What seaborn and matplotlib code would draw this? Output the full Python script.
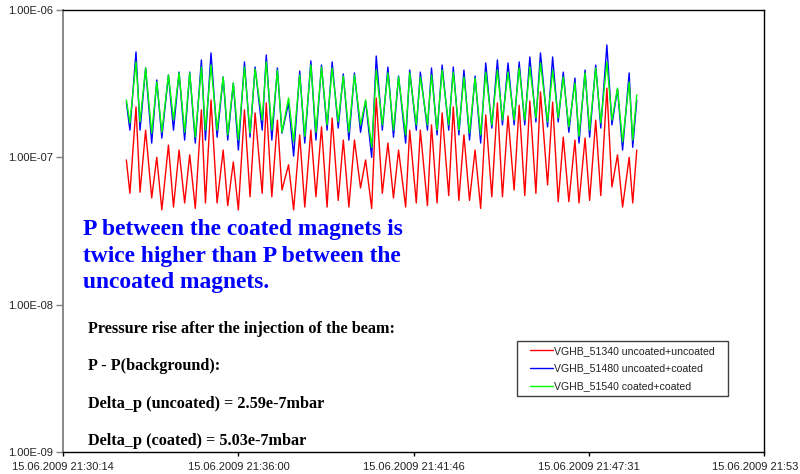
import matplotlib
matplotlib.use("Agg")
import matplotlib.pyplot as plt
import matplotlib.transforms as mtransforms
from matplotlib.patches import Rectangle
from matplotlib.ticker import FixedLocator, NullLocator
import numpy as np
import pandas as pd
import seaborn as sns

# ---------------- data ----------------
start_time = "21:30:14"
# seconds after 15.06.2009 21:30:14
time_s = [125, 132, 144, 152, 163, 175, 185, 195, 208, 218, 229, 240, 250, 261, 273, 281,
          292, 304, 316, 325, 336, 346, 358, 369, 379, 393, 401, 412, 423, 432, 445, 455,
          467, 477, 489, 499, 510, 521, 531, 543, 553, 564, 575, 587, 597, 609, 618, 630,
          641, 652, 662, 676, 684, 697, 705, 719, 727, 738, 748, 761, 770, 781, 791, 802,
          813, 824, 834, 846, 857, 867, 878, 890, 900, 911, 921, 933, 942, 956, 966, 977,
          987, 998, 1010, 1018, 1030, 1039, 1051, 1061, 1073, 1083, 1094, 1104, 1117, 1124, 1132]

# pressures in units of 1e-7 mbar
vghb_51340 = [0.96, 0.57, 2.20, 0.58, 1.53, 0.53, 1.00, 0.44, 1.21, 0.46, 1.12, 0.49, 1.04, 0.45, 2.10, 0.49,
              2.45, 0.49, 1.12, 0.47, 0.93, 0.44, 2.10, 0.54, 2.00, 0.57, 2.34, 0.54, 1.79, 0.60, 0.89, 0.44,
              1.42, 0.46, 1.53, 0.54, 1.61, 0.46, 1.85, 0.51, 1.31, 0.46, 1.31, 0.62, 0.96, 0.45, 2.53, 0.57,
              1.25, 0.53, 1.12, 0.46, 1.53, 0.49, 1.53, 0.47, 1.66, 0.49, 2.00, 0.55, 2.20, 0.51, 1.42, 0.51,
              1.12, 0.45, 1.94, 0.54, 2.34, 0.54, 1.91, 0.60, 2.26, 0.55, 2.41, 0.57, 2.78, 0.65, 2.37, 0.50,
              1.37, 0.50, 1.31, 0.49, 1.35, 0.51, 1.79, 0.55, 2.95, 0.63, 1.04, 0.46, 1.00, 0.49, 1.12]
vghb_51480 = [2.37, 1.53, 5.19, 1.53, 4.04, 1.25, 3.35, 1.35, 3.62, 1.53, 3.79, 1.31, 3.79, 1.25, 4.58, 1.31,
              5.11, 1.37, 3.51, 1.31, 3.19, 1.12, 4.44, 1.37, 4.10, 1.53, 4.95, 1.31, 4.04, 1.46, 2.34, 1.02,
              3.85, 1.25, 4.51, 1.31, 4.23, 1.53, 4.44, 1.58, 3.68, 1.31, 3.74, 1.48, 2.41, 1.00, 4.87, 1.53,
              4.10, 1.37, 3.56, 1.25, 3.91, 1.53, 3.79, 1.53, 4.04, 1.42, 4.23, 1.53, 4.10, 1.42, 3.91, 1.31,
              3.56, 1.25, 4.37, 1.58, 4.58, 1.66, 4.37, 1.66, 4.44, 1.66, 4.80, 1.74, 5.11, 1.61, 4.80, 1.74,
              3.79, 1.48, 3.45, 1.25, 3.91, 1.37, 4.23, 1.58, 5.79, 1.66, 2.91, 1.12, 3.74, 1.17, 2.45]
vghb_51540 = [2.45, 1.71, 4.44, 1.74, 4.04, 1.46, 3.25, 1.48, 3.62, 1.79, 3.74, 1.48, 3.74, 1.37, 4.10, 1.53,
              4.23, 1.53, 3.51, 1.42, 3.19, 1.31, 4.10, 1.46, 3.98, 1.79, 4.44, 1.53, 3.91, 1.48, 2.53, 1.27,
              3.62, 1.39, 4.23, 1.48, 4.10, 1.66, 4.04, 1.74, 3.56, 1.48, 3.62, 1.66, 2.45, 1.17, 3.91, 1.66,
              3.74, 1.53, 3.51, 1.42, 3.74, 1.66, 3.51, 1.66, 3.62, 1.53, 3.91, 1.66, 3.79, 1.53, 3.51, 1.46,
              3.45, 1.42, 3.79, 1.66, 3.91, 1.79, 3.79, 1.79, 4.04, 1.79, 4.10, 1.85, 4.37, 1.74, 3.91, 1.85,
              3.51, 1.61, 3.19, 1.39, 3.74, 1.53, 4.04, 1.71, 4.44, 1.79, 2.95, 1.27, 3.25, 1.31, 2.65]
UNIT = 1e-7

series_names = ["VGHB_51340 uncoated+uncoated",
                "VGHB_51480 uncoated+coated",
                "VGHB_51540 coated+coated"]
series_colors = ["#FF0000", "#0000FF", "#00FF00"]

x_tick_times = ["21:30:14", "21:36:00", "21:41:46", "21:47:31", "21:53:17"]
x_tick_labels = ["15.06.2009 21:30:14", "15.06.2009 21:36:00", "15.06.2009 21:41:46",
                 "15.06.2009 21:47:31", "15.06.2009 21:53"]
y_tick_values = [1e-9, 1e-8, 1e-7, 1e-6]
y_tick_labels = ["1.00E-09", "1.00E-08", "1.00E-07", "1.00E-06"]

headline = ["P between the coated magnets is",
            "twice higher than P between the",
            "uncoated magnets."]
notes = ["Pressure rise after the injection of the beam:",
         "P - P(background):",
         "Delta_p (uncoated) = 2.59e-7mbar",
         "Delta_p (coated) = 5.03e-7mbar"]

# ---------------- plotting ----------------
sns.set_theme(style="white")
plt.rcParams['font.family'] = ['Liberation Sans', 'DejaVu Sans']

W, H = 800, 474
fig = plt.figure(figsize=(W / 100, H / 100), dpi=100)
fig.patch.set_facecolor("white")
ax = fig.add_axes([63 / W, 1 - 452 / H, (764 - 63) / W, (452 - 10) / H])


def to_sec(hms):
    h, m, s = (int(v) for v in hms.split(":"))
    h0, m0, s0 = (int(v) for v in start_time.split(":"))
    return (h * 3600 + m * 60 + s) - (h0 * 3600 + m0 * 60 + s0)


frames = []
for name, vals in zip(series_names, [vghb_51340, vghb_51480, vghb_51540]):
    frames.append(pd.DataFrame({"t": time_s, "p": np.array(vals) * UNIT, "series": name}))
df = pd.concat(frames, ignore_index=True)

sns.lineplot(data=df, x="t", y="p", hue="series", hue_order=series_names,
             palette=dict(zip(series_names, series_colors)),
             estimator=None, sort=False, linewidth=1.0, ax=ax, legend=False)

ax.set_yscale("log")
tick_secs = [to_sec(t) for t in x_tick_times]
ax.set_xlim(tick_secs[0], tick_secs[-1])
ax.set_ylim(y_tick_values[0], y_tick_values[-1])
ax.yaxis.set_major_locator(FixedLocator(y_tick_values))
ax.yaxis.set_minor_locator(NullLocator())
ax.set_yticklabels(y_tick_labels)
ax.xaxis.set_major_locator(FixedLocator(tick_secs))
ax.set_xticklabels(x_tick_labels)
ax.set_xlabel("")
ax.set_ylabel("")
ax.grid(False)
ax.set_facecolor("white")

ax.tick_params(axis="y", which="major", direction="out", length=5, width=1,
               color="#808080", labelsize=8, labelcolor="#222222", pad=2, left=True)
ax.tick_params(axis="x", which="major", direction="out", length=3, width=1,
               color="#000000", labelsize=8, labelcolor="#222222", pad=4, bottom=True)

# the last date label sits against the right edge of the picture
last = ax.get_xticklabels()[-1]
last.set_transform(last.get_transform() +
                   mtransforms.ScaledTranslation(-9 / 100, 0, fig.dpi_scale_trans))

for side in ["top", "right", "bottom"]:
    ax.spines[side].set_color("#000000")
    ax.spines[side].set_linewidth(1.0)
ax.spines["left"].set_color("#808080")
ax.spines["left"].set_linewidth(1.3)

# blue headline
for i, line in enumerate(headline):
    fig.text(83 / W, 1 - (235 + 26.6 * i) / H, line, color="#0000FF",
             family=["Liberation Serif", "DejaVu Serif"], weight="bold",
             fontsize=16.9, va="baseline", ha="left")

# black notes
for i, line in enumerate(notes):
    fig.text(87.5 / W, 1 - (332.7 + 37.5 * i) / H, line, color="#000000",
             family=["Liberation Serif", "DejaVu Serif"], weight="bold",
             fontsize=11.7, va="baseline", ha="left")

# legend box
frame = Rectangle((516.7 / W, 1 - 396 / H), 211 / W, 55 / H, transform=fig.transFigure,
                  facecolor="white", edgecolor="#404040", linewidth=1.0, zorder=4)
fig.add_artist(frame)
handles = ax.get_lines()[:3]
leg = fig.legend(handles, series_names, loc="upper left",
                 bbox_to_anchor=(529.5 / W, 1 - 346 / H), frameon=False,
                 prop={"family": "Liberation Sans", "size": 7.6},
                 handlelength=2.25, handletextpad=0.05, labelspacing=0.72,
                 borderpad=0, borderaxespad=0)
leg.set_zorder(5)
for t in leg.get_texts():
    t.set_color("#222222")

fig.savefig("out.png", dpi=100)
